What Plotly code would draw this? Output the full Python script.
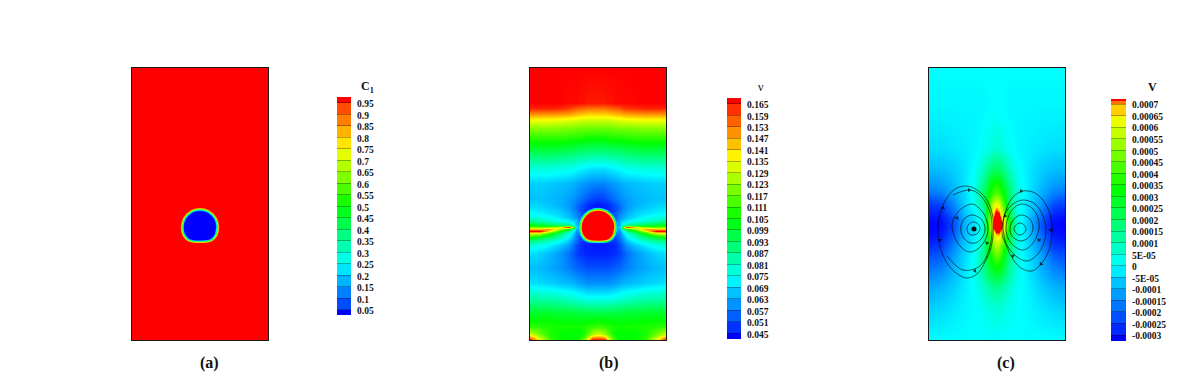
import plotly.graph_objects as go

W, H = 1196, 383
PAGE_MARGIN = 8  # the page body sits 8 px in from the window corner

# colour maps (rainbow used by all three fields)
rainbow = [[0, "#0000ff"], [0.25, "#00ffff"], [0.5, "#00ff00"], [0.75, "#ffff00"], [1, "#ff0000"]]
rainbow_v = [[0, "#0000ff"], [0.311, "#00ffff"], [0.626, "#00ff00"], [0.931, "#ffff00"], [0.979, "#ffa000"], [1, "#ff0000"]]

# panel (a): C1 is uniform outside the droplet, nodes in panel pixels from the top-left corner
a_x = [0, 136]
a_y = [0, 272]
a_z = [[1, 1], [1, 1]]

# droplet outline, shared by (a) and (b)
drop_x = [68, 72.5, 76.6, 80.2, 83, 84.7, 85.3, 85, 84, 82, 79.5, 76, 72, 68, 64, 60, 56.5, 54, 52, 51, 50.7, 51.3, 53,
          55.8, 59.4, 63.5]
drop_y = [141.7, 142.3, 144, 146.8, 150.4, 154.5, 159, 163, 166.5, 169.5, 171.8, 173, 173.4, 173.5, 173.4, 173, 171.8,
          169.5, 166.5, 163, 159, 154.5, 150.4, 146.8, 144, 142.3]
drop_cx, drop_cy = 68, 159
rings_a = [(1.8, "#ff9000"), (1.3, "#e8ff00"), (0.8, "#60ff00"), (0.3, "#00ff80"), (-0.2, "#00ffff"),
           (-0.7, "#0090ff"), (-1.2, "#0000ff")]
rings_b = [(2.0, "#00c0ff"), (1.5, "#00ffd0"), (1.0, "#00ff60"), (0.5, "#60ff00"), (0.0, "#e0ff00"),
           (-0.5, "#ffc000"), (-1.0, "#ff0000")]

# panel (b): viscosity, in units of 0.001
b_x = [0, 10, 20, 30, 39, 44, 46, 50, 54, 58, 62, 66, 70, 74, 78, 82, 86, 90, 92, 97, 106, 116, 126, 136]
b_y = [0, 35, 40, 46, 52, 60, 70, 85, 100, 115, 130, 137, 141, 145, 149, 153, 157, 159, 161, 163, 165,
       169, 173, 177, 185, 200, 215, 230, 245, 258, 266, 272]
b_z = [
    [168] * 24,
    [168, 168, 168, 168, 167, 167, 167, 166, 166, 165, 165, 165, 165, 165, 166, 166, 167, 167, 167, 167, 168, 168, 168, 168],
    [164, 164, 164, 163, 161, 158, 157, 156, 155, 154, 154, 154, 154, 154, 155, 156, 157, 158, 160, 162, 163, 164, 164, 164],
    [150, 150, 150, 149, 148, 146, 145, 144, 143, 142, 142, 142, 142, 142, 143, 144, 145, 146, 147, 148, 149, 150, 150, 150],
    [135, 135, 135, 134, 133, 132, 132, 131, 130, 130, 130, 130, 130, 130, 130, 131, 132, 132, 133, 134, 134, 135, 135, 135],
    [122, 122, 122, 121, 120, 120, 119, 119, 118, 118, 118, 118, 118, 118, 118, 119, 119, 120, 120, 120, 121, 122, 122, 122],
    [110, 110, 110, 110, 109, 108, 108, 108, 107, 106, 106, 106, 106, 106, 107, 108, 108, 108, 108, 109, 110, 110, 110, 110],
    [94, 94, 94, 93, 92, 91, 90, 90, 89, 89, 88, 88, 88, 88, 89, 89, 90, 90, 91, 92, 93, 94, 94, 94],
    [78, 78, 78, 77, 76, 75, 74, 73, 72, 71, 70, 70, 70, 70, 71, 72, 73, 74, 75, 76, 77, 78, 78, 78],
    [68, 68, 67, 66, 65, 64, 63, 62, 61, 60, 59, 59, 59, 59, 60, 61, 62, 63, 64, 65, 66, 67, 68, 68],
    [66, 66, 65, 64, 62, 60, 59, 57, 55, 53, 51, 50, 50, 51, 53, 55, 57, 59, 60, 62, 64, 65, 66, 66],
    [69, 68, 66, 64, 61, 58, 56, 53, 50, 47, 46, 45, 45, 46, 47, 50, 53, 56, 58, 61, 64, 66, 68, 69],
    [71, 70, 68, 66, 62, 58, 56, 52, 49, 47, 46, 46, 46, 46, 47, 49, 52, 56, 58, 62, 66, 68, 70, 71],
    [74, 72, 70, 68, 64, 60, 58, 54, 50, 48, 47, 47, 47, 47, 48, 50, 54, 58, 60, 64, 68, 70, 72, 74],
    [78, 76, 74, 70, 66, 62, 60, 56, 52, 48, 48, 48, 48, 48, 48, 52, 56, 60, 62, 66, 70, 74, 76, 78],
    [88, 84, 80, 76, 72, 68, 65, 58, 52, 48, 48, 48, 48, 48, 48, 52, 58, 65, 68, 72, 76, 80, 84, 88],
    [105, 100, 96, 92, 90, 74, 66, 60, 52, 48, 48, 48, 48, 48, 48, 52, 60, 66, 74, 90, 92, 96, 100, 105],
    [118, 118, 122, 135, 165, 110, 72, 60, 52, 48, 48, 48, 48, 48, 48, 52, 60, 72, 110, 165, 135, 122, 118, 118],
    [145, 145, 150, 125, 105, 80, 65, 60, 52, 48, 48, 48, 48, 48, 48, 52, 60, 65, 80, 105, 125, 150, 145, 145],
    [168, 168, 135, 105, 88, 70, 62, 58, 52, 48, 48, 48, 48, 48, 48, 52, 58, 62, 70, 88, 105, 135, 168, 168],
    [135, 130, 110, 92, 78, 66, 60, 56, 52, 48, 48, 48, 48, 48, 48, 52, 56, 60, 66, 78, 92, 110, 130, 135],
    [105, 100, 92, 82, 72, 62, 57, 52, 50, 48, 48, 48, 48, 48, 48, 50, 52, 57, 62, 72, 82, 92, 100, 105],
    [88, 85, 80, 74, 66, 58, 55, 50, 48, 47, 47, 47, 47, 47, 47, 48, 50, 55, 58, 66, 74, 80, 85, 88],
    [78, 76, 72, 67, 61, 55, 52, 48, 46, 46, 45, 45, 45, 45, 46, 46, 48, 52, 55, 61, 67, 72, 76, 78],
    [70, 68, 65, 61, 56, 52, 50, 48, 47, 46, 46, 46, 46, 46, 46, 47, 48, 50, 52, 56, 61, 65, 68, 70],
    [66, 65, 63, 61, 58, 56, 55, 54, 53, 52, 52, 52, 52, 52, 52, 53, 54, 55, 56, 58, 61, 63, 65, 66],
    [70, 69, 68, 66, 65, 64, 63, 62, 61, 60, 60, 60, 60, 60, 60, 61, 62, 63, 64, 65, 66, 68, 69, 70],
    [85, 84, 83, 82, 80, 79, 78, 77, 76, 75, 75, 75, 75, 75, 75, 76, 77, 78, 79, 80, 82, 83, 84, 85],
    [100, 100, 100, 99, 99, 98, 98, 98, 97, 97, 97, 97, 97, 97, 97, 98, 98, 98, 98, 99, 99, 100, 100, 100],
    [110, 109, 108, 107, 107, 107, 107, 107, 108, 109, 110, 111, 111, 110, 109, 108, 107, 107, 107, 107, 107, 108, 109, 110],
    [130, 118, 108, 105, 104, 104, 104, 105, 108, 116, 125, 130, 130, 125, 116, 108, 105, 104, 104, 104, 105, 108, 118, 130],
    [168, 135, 112, 106, 104, 104, 105, 110, 120, 140, 168, 168, 168, 168, 140, 120, 110, 105, 104, 104, 106, 112, 135, 168],
]

# panel (c): V, in units of 1e-5
c_x = [0, 12, 24, 36, 46, 54, 60, 64, 67, 70, 74, 80, 88, 100, 112, 124, 136]
c_y = [0, 40, 80, 100, 115, 125, 135, 145, 150, 155, 160, 168, 178, 190, 205, 220, 240, 272]
c_z = [
    [0] * 17,
    [-1, -1, -1, -1, -1, -1, 0, 0, 0, 0, 0, -1, -1, -1, -1, -1, -1],
    [-4, -4, -3, -2, -1, 1, 3, 5, 6, 5, 3, 1, -1, -2, -3, -4, -4],
    [-8, -8, -6, -3, 1, 8, 15, 19, 20, 19, 15, 8, 1, -3, -6, -8, -8],
    [-13, -12, -8, -3, 3, 15, 27, 33, 35, 33, 27, 15, 3, -3, -8, -12, -13],
    [-18, -16, -10, -4, 4, 20, 33, 40, 42, 40, 33, 20, 4, -4, -10, -16, -18],
    [-25, -23, -15, -5, 3, 16, 40, 56, 62, 58, 42, 18, 3, -5, -13, -22, -25],
    [-29, -28, -19, -7, -1, 8, 42, 66, 76, 72, 52, 24, 3, -6, -17, -27, -29],
    [-31, -30, -22, -9, -3, 6, 45, 70, 80, 78, 62, 30, 4, -8, -20, -30, -31],
    [-32, -31, -23, -9, -3, 6, 45, 70, 80, 80, 68, 32, 4, -8, -21, -31, -32],
    [-32, -31, -23, -9, -3, 6, 44, 70, 80, 80, 66, 30, 4, -8, -21, -31, -32],
    [-31, -29, -20, -8, -2, 7, 38, 56, 66, 66, 50, 24, 4, -7, -18, -29, -31],
    [-27, -25, -16, -6, 0, 12, 34, 48, 56, 52, 40, 20, 3, -6, -15, -25, -27],
    [-22, -20, -12, -4, 2, 16, 30, 38, 42, 40, 32, 16, 3, -4, -11, -19, -22],
    [-16, -14, -9, -3, 3, 12, 22, 26, 28, 26, 22, 12, 3, -3, -9, -14, -16],
    [-11, -9, -6, -2, 1, 6, 11, 13, 14, 13, 11, 6, 1, -2, -6, -9, -11],
    [-6, -5, -3, -1, 0, 2, 4, 5, 6, 5, 4, 2, 0, -1, -3, -5, -6],
    [0] * 17,
]

# streamlines in panel (c)
stream_lines = [
    ([64, 58, 48, 38, 26, 16, 10, 9, 12, 20, 30, 38, 48, 58, 63, 64],
     [150, 132, 122, 118, 121, 133, 150, 165, 182, 198, 207, 210, 206, 190, 175, 150]),
    ([24, 41, 52, 62, 61, 51, 34, 18],
     [127, 122, 128, 148, 178, 198, 202, 188]),
    ([43, 32, 25, 23, 26, 33, 41, 50, 57, 59, 56, 50, 43],
     [136, 141, 150, 158, 170, 180, 184, 180, 170, 160, 148, 140, 136]),
    ([44, 36, 32, 33, 39, 46, 53, 56, 53, 44],
     [147, 150, 158, 167, 174, 175, 170, 161, 152, 147]),
    ([45, 40, 38, 40, 45, 49, 51, 49, 45],
     [154, 156, 161, 166, 167, 165, 160, 156, 154]),
    ([74, 77, 84, 94, 106, 116, 122, 123, 120, 112, 103, 92, 82, 76, 74],
     [158, 142, 129, 123, 125, 135, 150, 165, 182, 196, 203, 200, 188, 172, 158]),
    ([73, 76, 84, 94, 106, 114, 117, 114, 107, 98, 88, 79, 74, 73],
     [162, 146, 136, 132, 136, 148, 162, 177, 188, 193, 189, 179, 170, 162]),
    ([77, 80, 86, 93, 103, 109, 110, 106, 99, 93, 85, 79, 77],
     [160, 147, 139, 136, 140, 150, 160, 172, 180, 182, 178, 170, 160]),
    ([92, 85, 81, 83, 91, 99, 104, 101, 92],
     [147, 151, 160, 168, 173, 170, 161, 151, 147]),
    ([91, 87, 85, 87, 91, 95, 97, 95, 91],
     [155, 157, 161, 165, 167, 165, 161, 157, 155]),
]
arrow_x = [14, 40, 58, 11, 46, 92, 122, 112, 84, 76, 110, 28]
arrow_y = [140, 122, 175, 172, 203, 123, 162, 196, 188, 148, 172, 150]
arrow_angle = [20, 90, 200, 180, 260, 90, 180, 220, 300, 340, 200, 30]

# colour bars
bar_a_levels = [.05, .1, .15, .2, .25, .3, .35, .4, .45, .5, .55, .6, .65, .7, .75, .8, .85, .9, .95]
bar_a_labels = ["0.05", "0.1", "0.15", "0.2", "0.25", "0.3", "0.35", "0.4", "0.45", "0.5", "0.55", "0.6",
                "0.65", "0.7", "0.75", "0.8", "0.85", "0.9", "0.95"]
bar_b_levels = [45, 51, 57, 63, 69, 75, 81, 87, 93, 99, 105, 111, 117, 123, 129, 135, 141, 147, 153, 159, 165]
bar_b_labels = ["0.045", "0.051", "0.057", "0.063", "0.069", "0.075", "0.081", "0.087", "0.093", "0.099", "0.105",
                "0.111", "0.117", "0.123", "0.129", "0.135", "0.141", "0.147", "0.153", "0.159", "0.165"]
bar_c_levels = [-30, -25, -20, -15, -10, -5, 0, 5, 10, 15, 20, 25, 30, 35, 40, 45, 50, 55, 60, 65, 70]
bar_c_labels = ["-0.0003", "-0.00025", "-0.0002", "-0.00015", "-0.0001", "-5E-05", "0", "5E-05", "0.0001", "0.00015",
                "0.0002", "0.00025", "0.0003", "0.00035", "0.0004", "0.00045", "0.0005", "0.00055", "0.0006",
                "0.00065", "0.0007"]

serif = "Liberation Serif"


def fx(px):
    return (px - PAGE_MARGIN) / W


def fy(py):
    return 1 - (py - PAGE_MARGIN) / H


def band_colours(levels, low, high):
    mids = [(p + q) / 2 for p, q in zip(levels[:-1], levels[1:])]
    return [[low]] + [[m] for m in mids] + [[high]]


panels = [
    dict(x=a_x, y=a_y, z=a_z, left=132, zmin=0, zmax=1, scale=rainbow,
         levels=bar_a_levels, labels=bar_a_labels, extra=[], lo=.028, hi=.976, rings=rings_a,
         bar=(337, 351, 97, 315), title="<b>C<sub>1</sub></b>", title_x=367, cap="<b>(a)</b>", cap_x=209),
    dict(x=b_x, y=b_y, z=b_z, left=530, zmin=42, zmax=168, scale=rainbow,
         levels=bar_b_levels, labels=bar_b_labels, extra=[], lo=42, hi=168, rings=rings_b,
         bar=(727, 741, 98, 339), title="ν", title_x=761, cap="<b>(b)</b>", cap_x=609),
    dict(x=c_x, y=c_y, z=c_z, left=929, zmin=-32.6, zmax=72.2, scale=rainbow_v,
         levels=bar_c_levels, labels=bar_c_labels, extra=[71.2], lo=-32.6, hi=72.2, rings=[],
         bar=(1111, 1126, 99, 341), title="<b>V</b>", title_x=1152, cap="<b>(c)</b>", cap_x=1006),
]

fig = go.Figure()
layout = {}
notes = []

for i, p in enumerate(panels):
    xa, ya = f"x{2 * i + 1}", f"y{2 * i + 1}"
    xb, yb = f"x{2 * i + 2}", f"y{2 * i + 2}"
    fig.add_trace(go.Heatmap(x=p["x"], y=p["y"], z=p["z"], zsmooth="best", zmin=p["zmin"], zmax=p["zmax"],
                             colorscale=p["scale"], showscale=False, hoverinfo="skip", xaxis=xa, yaxis=ya))
    for off, col in p["rings"]:
        k = 1 + off / 17.5
        rx = [drop_cx + (v - drop_cx) * k for v in drop_x]
        ry = [drop_cy + (v - drop_cy) * k for v in drop_y]
        fig.add_trace(go.Scatter(x=rx, y=ry, mode="lines", fill="toself", fillcolor=col, line=dict(width=0, color=col),
                                 hoverinfo="skip", showlegend=False, xaxis=xa, yaxis=ya))
    layout[f"xaxis{2 * i + 1}"] = dict(domain=[fx(p["left"]), fx(p["left"] + 136)], range=[0, 136], anchor=ya,
                                       showticklabels=False, ticks="", showgrid=False, zeroline=False,
                                       showline=True, mirror=True, linecolor="#1a1a1a", linewidth=1.3)
    layout[f"yaxis{2 * i + 1}"] = dict(domain=[fy(340), fy(68)], range=[272, 0], anchor=xa,
                                       showticklabels=False, ticks="", showgrid=False, zeroline=False,
                                       showline=True, mirror=True, linecolor="#1a1a1a", linewidth=1.3)

    band_levels = p["levels"] + p["extra"]
    edges = [p["lo"]] + band_levels + [p["hi"]]
    fig.add_trace(go.Heatmap(x=[0, 1], y=edges, z=band_colours(band_levels, p["zmin"], p["zmax"]),
                             zmin=p["zmin"], zmax=p["zmax"], colorscale=p["scale"], showscale=False,
                             hoverinfo="skip", xaxis=xb, yaxis=yb))
    x0, x1, y0, y1 = p["bar"]
    layout[f"xaxis{2 * i + 2}"] = dict(domain=[fx(x0), fx(x1)], range=[0, 1], anchor=yb, visible=False)
    layout[f"yaxis{2 * i + 2}"] = dict(domain=[fy(y1), fy(y0)], range=[p["lo"], p["hi"]], anchor=xb,
                                       side="right", tickmode="array", tickvals=p["levels"], ticktext=p["labels"],
                                       ticks="inside", ticklen=x1 - x0, tickwidth=1, tickcolor="rgba(0,0,0,0.3)",
                                       ticklabelstandoff=5, ticklabelshift=1, showgrid=False, zeroline=False,
                                       showline=False, tickfont=dict(family=serif, size=9.5, color="#111111", weight=700))
    notes.append(dict(text=p["title"], x=fx(p["title_x"]), y=fy(87), xref="paper", yref="paper", xanchor="center",
                      yanchor="middle", showarrow=False, font=dict(family=serif, size=12, color="#111111")))
    notes.append(dict(text=p["cap"], x=fx(p["cap_x"]), y=fy(363), xref="paper", yref="paper", xanchor="center",
                      yanchor="middle", showarrow=False, font=dict(family=serif, size=16, color="#111111")))

for sx, sy in stream_lines:
    fig.add_trace(go.Scatter(x=sx, y=sy, mode="lines", line=dict(color="rgba(0,0,0,0.65)", width=0.9, shape="spline"),
                             hoverinfo="skip", showlegend=False, xaxis="x5", yaxis="y5"))
fig.add_trace(go.Scatter(x=arrow_x, y=arrow_y, mode="markers", hoverinfo="skip", showlegend=False, xaxis="x5", yaxis="y5",
                         marker=dict(symbol="triangle-up", size=4, angle=arrow_angle, color="rgba(0,0,0,0.7)")))
fig.add_trace(go.Scatter(x=[45], y=[161], mode="markers", hoverinfo="skip", showlegend=False, xaxis="x5", yaxis="y5",
                         marker=dict(size=5, color="#111111")))

fig.update_layout(width=W, height=H, margin=dict(l=0, r=0, t=0, b=0), autosize=False,
                  paper_bgcolor="white", plot_bgcolor="white", showlegend=False, annotations=notes, **layout)

fig.write_html("out.html")
